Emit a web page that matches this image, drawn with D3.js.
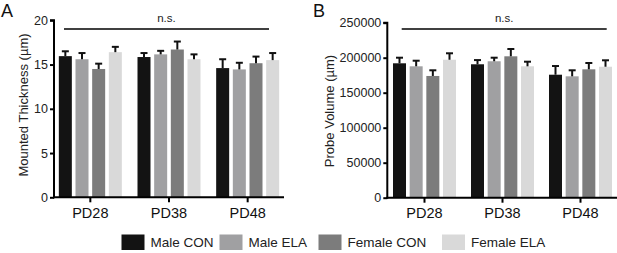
<!DOCTYPE html>
<html>
<head>
<meta charset="utf-8">
<script src="https://cdn.jsdelivr.net/npm/d3@7/dist/d3.min.js"></script>
<style>
  html, body { margin: 0; padding: 0; background: #fff; }
  svg { display: block; font-family: "Liberation Sans", Arial, sans-serif; }
</style>
</head>
<body>
<div id="chart"></div>
<script>
// data
const groups = ['PD28', 'PD38', 'PD48'];
const series = ['Male CON', 'Male ELA', 'Female CON', 'Female ELA'];
const colors = ['#131313', '#a0a0a2', '#7c7c7c', '#d9d9d9'];

// panel A: mounted thickness, rows = series, cols = groups
const thickMean = [
  [15.95, 15.85, 14.6],
  [15.6, 16.15, 14.45],
  [14.5, 16.7, 15.15],
  [16.4, 15.6, 15.5]
];
const thickErr = [
  [0.55, 0.45, 1.0],
  [0.7, 0.4, 0.75],
  [0.6, 0.9, 0.75],
  [0.6, 0.55, 0.8]
];
const thickTicks = [0, 5, 10, 15, 20];

// panel B: probe volume
const volMean = [
  [192000, 190600, 175700],
  [187700, 194900, 173400],
  [173900, 202000, 183400],
  [197100, 187700, 187100]
];
const volErr = [
  [8000, 6000, 12400],
  [8000, 5100, 8600],
  [8100, 10400, 9000],
  [9200, 6600, 9200]
];
const volTicks = [0, 50000, 100000, 150000, 200000, 250000];

const W = 617, H = 253;
const svg = d3.select('#chart').append('svg')
  .attr('width', W).attr('height', H);

function drawPanel(o) {
  const g = svg.append('g');
  const y = d3.scaleLinear().domain([0, o.ymax]).range([o.y0, o.y1]);
  const x = d3.scaleBand().domain(groups).range([o.xl, o.xr]).paddingInner(0).paddingOuter(0);
  const inner = d3.scaleBand().domain(series).range([0, 63]).paddingInner(0.22);

  // bars + error bars
  series.forEach((s, si) => {
    const rows = groups.map((gname, gi) => ({ g: gname, v: o.mean[si][gi], e: o.err[si][gi] }));
    const cx = d => x(d.g) + x.bandwidth() / 2 - 31.5 + inner(s);
    g.append('g').selectAll('rect').data(rows).join('rect')
      .attr('x', cx)
      .attr('y', d => y(d.v))
      .attr('width', inner.bandwidth())
      .attr('height', d => y(0) - y(d.v))
      .attr('fill', colors[si]);
    const eb = g.append('g').attr('stroke', '#111').attr('stroke-width', 2);
    eb.selectAll('line.v').data(rows).join('line').attr('class', 'v')
      .attr('x1', d => cx(d) + inner.bandwidth() / 2)
      .attr('x2', d => cx(d) + inner.bandwidth() / 2)
      .attr('y1', d => y(d.v))
      .attr('y2', d => y(d.v + d.e));
    eb.selectAll('line.c').data(rows).join('line').attr('class', 'c')
      .attr('x1', d => cx(d) + inner.bandwidth() / 2 - 3.5)
      .attr('x2', d => cx(d) + inner.bandwidth() / 2 + 3.5)
      .attr('y1', d => y(d.v + d.e))
      .attr('y2', d => y(d.v + d.e));
  });

  // y axis
  const ya = g.append('g')
    .attr('transform', `translate(${o.ax},0)`)
    .call(d3.axisLeft(y).tickValues(o.ticks).tickSize(4).tickPadding(2).tickFormat(d3.format('d')));
  ya.select('.domain').attr('stroke', '#000').attr('stroke-width', 2)
    .attr('d', `M-4,${y(o.ymax)}H0V${y(0) + 1}`);
  ya.selectAll('.tick line').attr('stroke', '#000').attr('stroke-width', 2);
  ya.selectAll('.tick text').attr('font-size', 12.5).attr('fill', '#222')
    .attr('font-family', '"Liberation Sans", Arial, sans-serif');

  // x axis
  const xa = g.append('g')
    .attr('transform', `translate(0,${y(0)})`)
    .call(d3.axisBottom(x).tickSize(5).tickPadding(5.5));
  xa.select('.domain').attr('stroke', '#000').attr('stroke-width', 2)
    .attr('d', `M${o.ax - 1},0H${o.axEnd}`);
  xa.selectAll('.tick line').attr('stroke', '#000').attr('stroke-width', 2);
  xa.selectAll('.tick text').attr('font-size', 14.5).attr('fill', '#111')
    .attr('font-family', '"Liberation Sans", Arial, sans-serif');

  // significance bar
  g.append('line')
    .attr('x1', o.ns[0]).attr('x2', o.ns[1])
    .attr('y1', 29).attr('y2', 29)
    .attr('stroke', '#000').attr('stroke-width', 1.6);
  g.append('text')
    .attr('x', (o.ns[0] + o.ns[1]) / 2).attr('y', 22)
    .attr('text-anchor', 'middle').attr('font-size', 11.5).attr('fill', '#222')
    .text('n.s.');

  // y title
  g.append('text')
    .attr('transform', `translate(${o.titleX},${o.titleY}) rotate(-90)`)
    .attr('text-anchor', 'middle').attr('font-size', 13).attr('fill', '#222')
    .text(o.title);

  // panel letter
  g.append('text')
    .attr('x', o.letterX).attr('y', 17)
    .attr('font-size', 18).attr('fill', '#111')
    .text(o.letter);
}

drawPanel({
  letter: 'A', letterX: 1, ymax: 20, ticks: thickTicks,
  mean: thickMean, err: thickErr,
  y0: 197.3, y1: 20.3, xl: 51, xr: 287, ax: 54, axEnd: 284,
  ns: [64, 269], title: 'Mounted Thickness (\u00b5m)', titleX: 28, titleY: 105
});

drawPanel({
  letter: 'B', letterX: 313, ymax: 250000, ticks: volTicks,
  mean: volMean, err: volErr,
  y0: 197.7, y1: 22.7, xl: 385.5, xr: 619.5, ax: 387.3, axEnd: 617,
  ns: [401.7, 606.7], title: 'Probe Volume (\u00b5m)', titleX: 334, titleY: 111
});

// legend
const legX = [121.5, 219.5, 318.5, 442];
const leg = svg.append('g');
series.forEach((s, i) => {
  leg.append('rect')
    .attr('x', legX[i]).attr('y', 234.5)
    .attr('width', 23).attr('height', 15.5)
    .attr('fill', colors[i]);
  leg.append('text')
    .attr('x', legX[i] + 29).attr('y', 247)
    .attr('font-size', 13.5).attr('fill', '#222')
    .text(s);
});
</script>
</body>
</html>
